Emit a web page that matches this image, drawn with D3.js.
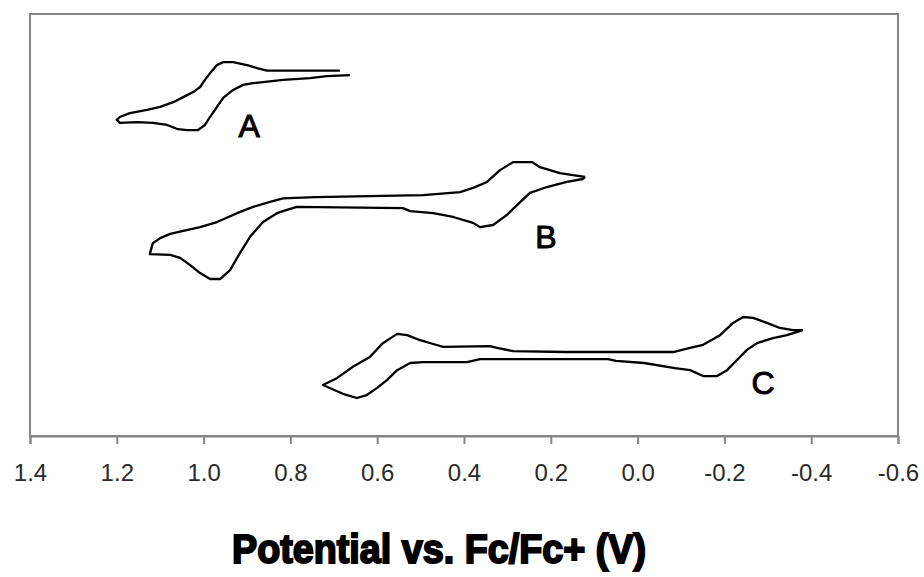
<!DOCTYPE html>
<html>
<head>
<meta charset="utf-8">
<script src="https://cdn.jsdelivr.net/npm/d3@7"></script>
<style>
  body { margin: 0; background: #fff; }
  svg { display: block; }
</style>
</head>
<body>
<div id="chart"></div>
<script>
// cyclic voltammograms, [potential (V vs Fc/Fc+), current (arb. units)]
var curveA = [
  [0.686, 86.6], [0.854, 86.6], [0.877, 87.2], [0.900, 87.9], [0.932, 88.6], [0.955, 88.6],
  [0.969, 87.9], [0.985, 86.0], [0.997, 84.4], [1.008, 82.7], [1.024, 81.5], [1.047, 80.3],
  [1.070, 79.1], [1.100, 78.0], [1.130, 77.3], [1.170, 76.5], [1.193, 75.6], [1.200, 74.9],
  [1.193, 74.2], [1.153, 74.4], [1.117, 74.2], [1.084, 73.7], [1.059, 72.7], [1.038, 72.5],
  [1.013, 72.5], [0.997, 73.7], [0.985, 75.6], [0.969, 78.0], [0.955, 80.1], [0.932, 82.0],
  [0.909, 83.2], [0.886, 83.6], [0.817, 84.4], [0.755, 84.8], [0.716, 85.3], [0.663, 85.5]
];

var curveB = [
  [0.121, 61.4], [0.149, 61.8], [0.179, 62.3], [0.225, 63.7], [0.243, 64.9], [0.287, 64.9],
  [0.317, 63.0], [0.347, 60.2], [0.379, 58.8], [0.409, 57.8], [0.494, 57.1], [0.743, 56.6],
  [0.817, 56.3], [0.847, 55.5], [0.886, 54.3], [0.923, 52.8], [0.969, 50.7], [1.008, 49.5],
  [1.047, 48.6], [1.077, 47.9], [1.100, 46.9], [1.117, 45.7], [1.124, 43.1],
  [1.077, 42.9], [1.054, 42.2], [1.031, 40.5], [1.008, 38.6], [0.985, 37.2], [0.962, 37.2],
  [0.939, 39.3], [0.916, 43.4], [0.893, 47.2], [0.863, 50.7], [0.831, 52.8], [0.808, 53.6],
  [0.785, 54.3], [0.541, 54.0], [0.524, 53.3], [0.471, 52.8], [0.425, 51.9], [0.379, 50.5],
  [0.363, 49.5], [0.333, 50.0], [0.301, 52.4], [0.278, 54.7], [0.248, 57.6], [0.209, 59.0],
  [0.163, 60.2], [0.126, 60.9], [0.121, 61.4]
];

var curveC = [
  [-0.381, 25.1], [-0.358, 25.1], [-0.328, 25.6], [-0.298, 26.8], [-0.266, 28.0], [-0.243, 28.2],
  [-0.220, 26.8], [-0.190, 23.9], [-0.151, 21.6], [-0.121, 20.9], [-0.082, 19.9], [0.167, 19.9],
  [0.287, 20.1], [0.324, 20.9], [0.340, 21.3], [0.448, 21.1], [0.471, 21.8], [0.501, 22.7],
  [0.531, 23.9], [0.554, 24.2], [0.587, 22.0], [0.617, 18.7], [0.656, 16.4], [0.693, 13.7],
  [0.725, 12.1],
  [0.679, 10.0], [0.647, 9.0], [0.624, 9.7], [0.600, 11.4], [0.577, 13.3], [0.554, 15.6],
  [0.524, 17.3], [0.494, 17.5], [0.393, 17.5], [0.363, 18.2], [0.068, 18.2], [0.050, 17.8],
  [-0.015, 17.3], [-0.086, 16.1], [-0.121, 15.6], [-0.151, 14.2], [-0.183, 14.2], [-0.206, 15.6],
  [-0.229, 18.0], [-0.252, 20.4], [-0.275, 22.0], [-0.312, 23.2], [-0.344, 23.9], [-0.381, 25.1]
];

var curveLabels = [
  {text: "A", e: 0.895, i: 70.9},
  {text: "B", e: 0.211, i: 44.5},
  {text: "C", e: -0.289, i: 10.0}
];

var xTicks = [1.4, 1.2, 1.0, 0.8, 0.6, 0.4, 0.2, 0.0, -0.2, -0.4, -0.6];
var xTitle = "Potential vs. Fc/Fc+ (V)";

var width = 924, height = 577;
var margin = {left: 30, right: 26, top: 14, bottom: 141};

var svg = d3.select("#chart").append("svg")
    .attr("width", width)
    .attr("height", height);

var x = d3.scaleLinear()
    .domain([1.4, -0.6])
    .range([margin.left, width - margin.right]);

var y = d3.scaleLinear()
    .domain([0, 100])
    .range([height - margin.bottom, margin.top]);

// plot frame
svg.append("rect")
    .attr("x", x(1.4))
    .attr("y", y(100))
    .attr("width", x(-0.6) - x(1.4))
    .attr("height", y(0) - y(100))
    .style("fill", "none")
    .style("stroke", "#858585")
    .style("stroke-width", 2);

// x axis
var xAxis = d3.axisBottom(x)
    .tickValues(xTicks)
    .tickSize(8)
    .tickPadding(20)
    .tickFormat(d3.format(".1f"));

var gx = svg.append("g")
    .attr("transform", "translate(0," + y(0) + ")")
    .call(xAxis);

gx.select(".domain").style("stroke", "#858585").style("stroke-width", 2);
gx.selectAll(".tick line").style("stroke", "#858585").style("stroke-width", 2);
gx.selectAll(".tick text")
    .style("font-family", "Liberation Sans, Arial, sans-serif")
    .style("font-size", "24px")
    .style("fill", "#2a2a2a")
    .text(d => d3.format(".1f")(d).replace("−", "-"));

// curves
var line = d3.line()
    .x(d => x(d[0]))
    .y(d => y(d[1]));

svg.selectAll(".cv")
    .data([curveA, curveB, curveC])
    .enter().append("path")
    .attr("class", "cv")
    .attr("d", line)
    .style("fill", "none")
    .style("stroke", "#000")
    .style("stroke-width", 2.3)
    .style("stroke-linejoin", "round");

// curve labels
svg.selectAll(".lbl")
    .data(curveLabels)
    .enter().append("text")
    .attr("class", "lbl")
    .attr("x", d => x(d.e))
    .attr("y", d => y(d.i))
    .attr("text-anchor", "middle")
    .style("font-family", "Liberation Sans, Arial, sans-serif")
    .style("font-size", "32px")
    .style("fill", "#000")
    .style("stroke", "#000")
    .style("stroke-width", 1)
    .text(d => d.text);

// axis title
svg.append("text")
    .attr("x", 439)
    .attr("y", 563)
    .attr("text-anchor", "middle")
    .attr("textLength", 414)
    .attr("lengthAdjust", "spacingAndGlyphs")
    .style("font-family", "Liberation Sans, Arial, sans-serif")
    .style("font-weight", "bold")
    .style("font-size", "41px")
    .style("fill", "#000")
    .style("stroke", "#000")
    .style("stroke-width", 2)
    .text(xTitle);
</script>
</body>
</html>
